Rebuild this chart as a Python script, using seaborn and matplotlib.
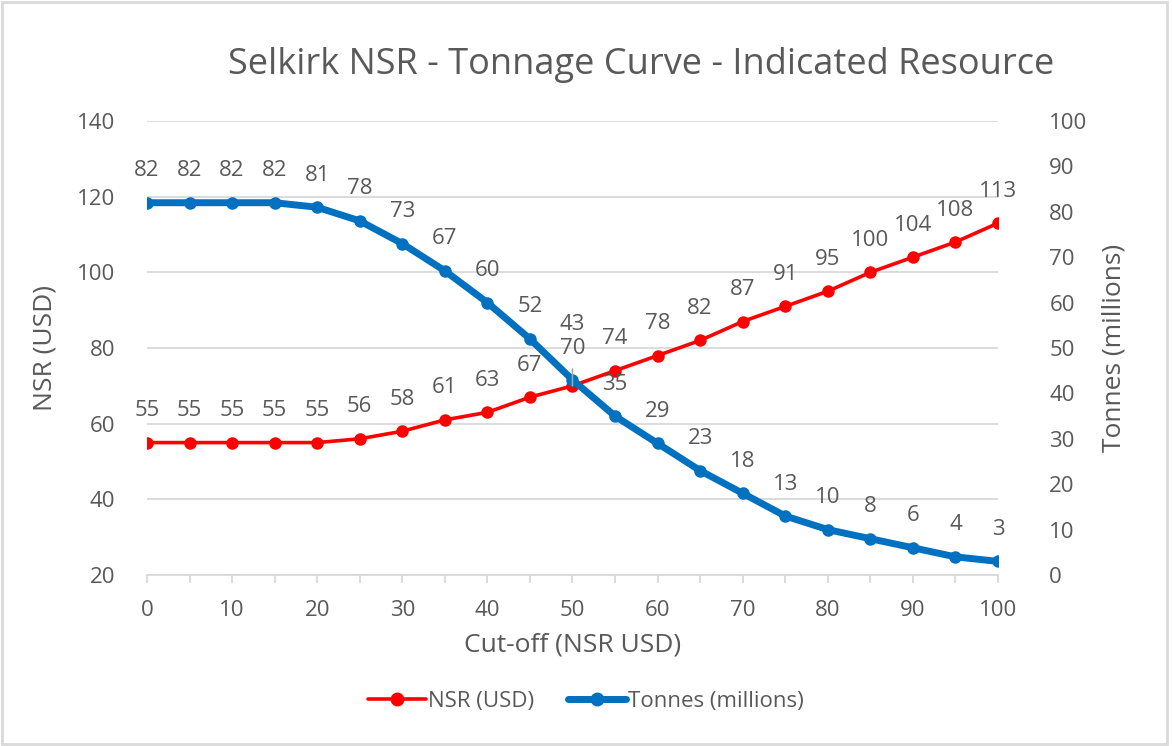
import pandas as pd
import matplotlib.pyplot as plt
import seaborn as sns
from matplotlib.lines import Line2D
from matplotlib.patches import Rectangle

# data
cutoff = [0, 5, 10, 15, 20, 25, 30, 35, 40, 45, 50, 55, 60, 65, 70, 75, 80, 85, 90, 95, 100]
nsr = [55, 55, 55, 55, 55, 56, 58, 61, 63, 67, 70, 74, 78, 82, 87, 91, 95, 100, 104, 108, 113]
tonnes = [82, 82, 82, 82, 81, 78, 73, 67, 60, 52, 43, 35, 29, 23, 18, 13, 10, 8, 6, 4, 3]

df = pd.DataFrame({'Cutoff': cutoff, 'NSR': nsr, 'Tonnes': tonnes})

red = '#FF0000'
blue = '#0070C0'
txt = '#595959'
grid = '#D9D9D9'

sns.set_theme(style="white")
plt.rcParams['font.family'] = ['Open Sans', 'DejaVu Sans']

fig = plt.figure(figsize=(11.72, 7.46), dpi=100)
ax = fig.add_axes([0.1254, 0.2292, 0.7261, 0.6086])
ax2 = ax.twinx()

sns.lineplot(data=df, x='Cutoff', y='NSR', ax=ax, color=red, linewidth=2.6,
             marker='o', markersize=9, markeredgewidth=0, zorder=3)
sns.lineplot(data=df, x='Cutoff', y='Tonnes', ax=ax2, color=blue, linewidth=5,
             marker='o', markersize=9, markeredgewidth=0, zorder=3)

ax.set_xlim(0, 100)
ax.set_ylim(20, 140)
ax2.set_ylim(0, 100)
ax.set_yticks(range(20, 141, 20))
ax2.set_yticks(range(0, 101, 10))
ax.set_xticks(range(0, 101, 10))
ax.set_xticks(range(0, 101, 5), minor=True)

ax.grid(axis='y', color=grid, linewidth=1.3)
ax.set_axisbelow(True)
for a in (ax, ax2):
    for s in a.spines.values():
        s.set_visible(False)
ax.spines['bottom'].set_visible(True)
ax.spines['bottom'].set_color(grid)
ax.spines['bottom'].set_linewidth(1.3)

ax.tick_params(axis='x', which='both', bottom=True, direction='out', length=6,
               color=grid, width=1.3, labelsize=16, labelcolor=txt, pad=12)
ax.tick_params(axis='y', left=False, labelsize=16, labelcolor=txt, pad=17)
ax2.tick_params(axis='y', right=False, labelsize=16, labelcolor=txt, pad=31)

ax.set_xlabel('Cut-off (NSR USD)', fontsize=19, color=txt, labelpad=8)
ax.set_ylabel('NSR (USD)', fontsize=19, color=txt, labelpad=14)
ax2.set_ylabel('Tonnes (millions)', fontsize=19, color=txt, labelpad=10)

# data labels above points
for x, v in zip(cutoff, nsr):
    if x == 50:
        # moved label with a leader line, drawn over the blue series
        ax2.annotate(str(v), (x, v), xycoords=ax.transData, xytext=(0, 27),
                     textcoords='offset points', ha='center', va='center',
                     fontsize=16, color=txt, zorder=6,
                     arrowprops=dict(arrowstyle='-', color='#A6A6A6', lw=1.2,
                                     shrinkA=5, shrinkB=0))
    else:
        ax.annotate(str(v), (x, v), xytext=(0, 23), textcoords='offset points',
                    ha='center', va='center', fontsize=16, color=txt)
for x, v in zip(cutoff, tonnes):
    dy = 40 if x == 50 else 23
    ax2.annotate(str(v), (x, v), xytext=(0, dy), textcoords='offset points',
                 ha='center', va='center', fontsize=16, color=txt)

fig.suptitle('Selkirk NSR - Tonnage Curve - Indicated Resource', x=0.547, y=0.913,
             va='center', fontsize=26, color=txt)

handles = [Line2D([], [], color=red, linewidth=2.6, marker='o', markersize=9),
           Line2D([], [], color=blue, linewidth=5, marker='o', markersize=9)]
fig.legend(handles, ['NSR (USD)', 'Tonnes (millions)'], loc='center',
           bbox_to_anchor=(0.5, 0.06), ncol=2, frameon=False, fontsize=16,
           labelcolor=txt, handlelength=2.6, handletextpad=0.1, columnspacing=1.5)

fig.patches.append(Rectangle((0.002, 0.003), 0.994, 0.994, transform=fig.transFigure,
                             fill=False, edgecolor=grid, linewidth=2))

fig.savefig('out.png', dpi=100)
